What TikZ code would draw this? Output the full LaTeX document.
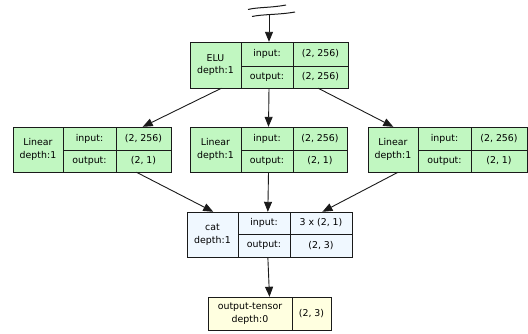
\documentclass[tikz,border=0pt]{standalone}
\usepackage{fontspec}
\setmainfont{DejaVu Sans}
\usetikzlibrary{arrows.meta,calc}
\definecolor{modfill}{HTML}{C1F7C1}
\definecolor{funcfill}{HTML}{F0F8FF}
\definecolor{tensfill}{HTML}{FFFFE0}
\definecolor{edgecol}{HTML}{1A1A1A}
\tikzset{
  cell/.style={draw=edgecol, line width=0.9pt, inner sep=0pt, align=center,
    font=\fontsize{9.4}{12.5}\selectfont},
  outer/.style={inner sep=0pt, draw=none},
  flow/.style={draw=edgecol, line width=0.9pt, -{Triangle[length=10pt,width=8pt]}},
}
% place a cell given its corners (x1,y1) and (x2,y2)
\newcommand{\rcell}[7]{%
  \node[cell, fill=#6, minimum width={#4-#2}, minimum height={#5-#3}]
    (#1) at ({(#2+#4)/2},{(#3+#5)/2}) {#7};}
% one record: name, x0,x1,x2,x3, y0,y1,y2, fill, label, in, out
\newcommand{\record}[9]{%
  \def\rname{#1}\def\ra{#2}\def\rb{#3}\def\rc{#4}\def\rd{#5}%
  \def\ry{#6}\def\rm{#7}\def\rz{#8}\def\rf{#9}\recordtext}
\newcommand{\recordtext}[3]{%
  \rcell{\rname-lab}{\ra}{\ry}{\rb}{\rz}{\rf}{#1}
  \rcell{\rname-inl}{\rb}{\ry}{\rc}{\rm}{\rf}{input:}
  \rcell{\rname-inv}{\rc}{\ry}{\rd}{\rm}{\rf}{#2}
  \rcell{\rname-outl}{\rb}{\rm}{\rc}{\rz}{\rf}{output:}
  \rcell{\rname-outv}{\rc}{\rm}{\rd}{\rz}{\rf}{#3}
  \node[outer, minimum width={\rd-\ra}, minimum height={\rz-\ry}]
    (\rname) at ({(\ra+\rd)/2},{(\ry+\rz)/2}) {};}
\begin{document}
\begin{tikzpicture}[x=1pt,y=-1pt]
\useasboundingbox (0,0) rectangle (528,333);

% records
\record{elu}{190}{241}{293}{348}{42}{66}{88}{modfill}{ELU\\depth:1}{(2, 256)}{(2, 256)}
\record{linA}{13}{63}{116}{171}{127}{150}{172}{modfill}{Linear\\depth:1}{(2, 256)}{(2, 1)}
\record{linB}{190}{241}{293}{347}{127}{150}{172}{modfill}{Linear\\depth:1}{(2, 256)}{(2, 1)}
\record{linC}{368}{418}{471}{527}{127}{150}{172}{modfill}{Linear\\depth:1}{(2, 256)}{(2, 1)}
\record{cat}{187}{238}{290}{352}{212}{234}{257}{funcfill}{cat\\depth:1}{3 x (2, 1)}{(2, 3)}

% output tensor
\rcell{outt-lab}{208}{297}{292}{330}{tensfill}{output-tensor\\depth:0}
\rcell{outt-val}{292}{297}{331}{330}{tensfill}{(2, 3)}
\node[outer, minimum width=123, minimum height=33] (outt) at (269.5,313.5) {};

% truncated incoming edge
\coordinate (cut) at (269,15);
\draw[edgecol, line width=1pt] (248,9.5) .. controls (258,7) and (270,8) .. (286,5);
\draw[edgecol, line width=1pt] (252,16.5) .. controls (264,14) and (278,15) .. (295,12);
\draw[flow] (cut) -- (elu.north);

% ELU to the three Linear layers
\draw[flow] ($(elu.south west)!0.2!(elu.south east)$) -- ($(linA.north west)!0.82!(linA.north east)$);
\draw[flow] (elu.south) -- (linB.north);
\draw[flow] ($(elu.south west)!0.81!(elu.south east)$) -- ($(linC.north west)!0.16!(linC.north east)$);

% Linear layers to cat
\draw[flow] ($(linA.south west)!0.78!(linA.south east)$) -- ($(cat.north west)!0.16!(cat.north east)$);
\draw[flow] (linB.south) -- ($(cat.north west)!0.49!(cat.north east)$);
\draw[flow] ($(linC.south west)!0.19!(linC.south east)$) -- ($(cat.north west)!0.82!(cat.north east)$);

% cat to output tensor
\draw[flow] ($(cat.south west)!0.49!(cat.south east)$) -- (outt.north);
\end{tikzpicture}
\end{document}
